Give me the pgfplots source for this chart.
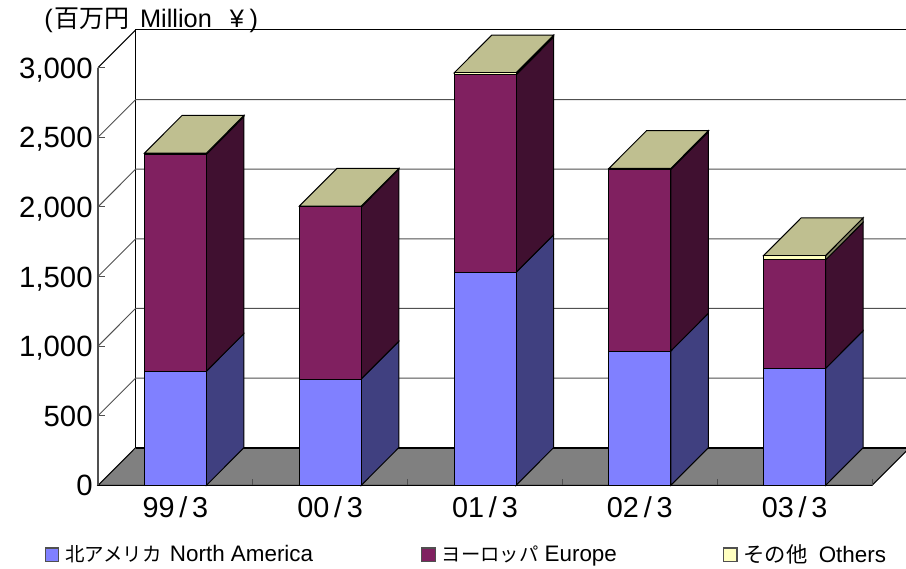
\documentclass[border=0pt]{standalone}
\usepackage{pgfplots}
\pgfplotsset{compat=1.18}
\usepackage{fontspec}
\setmainfont{Liberation Sans}
\newfontfamily\cjk{Noto Sans CJK JP}
\definecolor{cblue}{HTML}{8080FF}\definecolor{sblue}{HTML}{404080}
\definecolor{cpur}{HTML}{802060}\definecolor{spur}{HTML}{401030}
\definecolor{cyel}{HTML}{FFFFC0}\definecolor{syel}{HTML}{808060}
\definecolor{ctop}{HTML}{BFBF90}\definecolor{cfloor}{HTML}{808080}
\definecolor{cgrid}{HTML}{505050}
\newcommand{\lgd}{\fontsize{16.8pt}{18pt}\selectfont}
\newcommand{\jp}[2]{{\cjk\fontsize{#1}{18pt}\selectfont #2}}
\pgfplotsset{
  common/.style={
    at={(73.5pt,61.95pt)},anchor=south west,
    scale only axis,width=580.5pt,height=313.3pt,
    xmin=0,xmax=5,ymin=0,ymax=3000,clip=false,enlargelimits=false},
  side/.style={draw=black,line width=0.75pt,fill=#1,forget plot},
  wall/.style={draw=cgrid,line width=0.7pt,forget plot},
}
\begin{document}
\begin{tikzpicture}
\useasboundingbox (0,0) rectangle (679.5pt,426pt);
\clip (0,0) rectangle (679.5pt,426pt);
\begin{axis}[common,
  axis on top,
  axis lines=left,
  x axis line style={-,line width=1pt,color=black},
  y axis line style={-,line width=1.1pt,color=cgrid},
  ytick={0,500,1000,1500,2000,2500,3000},
  tick align=inside,
  tick style={color=cgrid,line width=0.7pt},
  major tick length=5pt,
  yticklabel style={font=\fontsize{22pt}{24pt}\selectfont,xshift=-0.5pt,text height=15.8pt,text depth=0pt,anchor=east},
  /pgf/number format/assume math mode=true,
  /pgf/number format/1000 sep={,},
  xtick={1,2,3,4,5},
  xticklabels={,,,,},
  extra x ticks={0.5,1.5,2.5,3.5,4.5},
  extra x tick labels={99\,/\,3,00\,/\,3,01\,/\,3,02\,/\,3,03\,/\,3},
  extra x tick style={major tick length=0pt,tick style={draw=none},
    xticklabel style={font=\fontsize{21.6pt}{24pt}\selectfont,yshift=-5pt}},
]
% floor
\addplot[draw=black,line width=0.75pt,fill=cfloor,forget plot] coordinates {(0,0)(5,0)(5.243,271)(0.243,271)} --cycle;
% back wall + grid
\addplot[draw=black,line width=0.8pt,forget plot] coordinates {(0.243,271)(0.243,3271)(5.243,3271)};
\addplot[draw=black,line width=1.3pt,forget plot] coordinates {(0.243,271)(5.243,271)};
\addplot[wall] coordinates {(0,500)(0.243,771)(5.243,771)};
\addplot[wall] coordinates {(0,1000)(0.243,1271)(5.243,1271)};
\addplot[wall] coordinates {(0,1500)(0.243,1771)(5.243,1771)};
\addplot[wall] coordinates {(0,2000)(0.243,2271)(5.243,2271)};
\addplot[wall] coordinates {(0,2500)(0.243,2771)(5.243,2771)};
\addplot[draw=black,line width=0.8pt,forget plot] coordinates {(0,3000)(0.243,3271)};
% sides and tops
\addplot[side=sblue] coordinates {(0.7,0)(0.943,271)(0.943,1091)(0.7,820)} --cycle;
\addplot[side=spur] coordinates {(0.7,820)(0.943,1091)(0.943,2649)(0.7,2378)} --cycle;
\addplot[side=syel] coordinates {(0.7,2378)(0.943,2649)(0.943,2657)(0.7,2386)} --cycle;
\addplot[side=ctop] coordinates {(0.3,2386)(0.7,2386)(0.943,2657)(0.543,2657)} --cycle;
\addplot[side=sblue] coordinates {(1.7,0)(1.943,271)(1.943,1035)(1.7,764)} --cycle;
\addplot[side=spur] coordinates {(1.7,764)(1.943,1035)(1.943,2271)(1.7,2000)} --cycle;
\addplot[side=syel] coordinates {(1.7,2000)(1.943,2271)(1.943,2276)(1.7,2005)} --cycle;
\addplot[side=ctop] coordinates {(1.3,2005)(1.7,2005)(1.943,2276)(1.543,2276)} --cycle;
\addplot[side=sblue] coordinates {(2.7,0)(2.943,271)(2.943,1800)(2.7,1529)} --cycle;
\addplot[side=spur] coordinates {(2.7,1529)(2.943,1800)(2.943,3219)(2.7,2948)} --cycle;
\addplot[side=syel] coordinates {(2.7,2948)(2.943,3219)(2.943,3233)(2.7,2962)} --cycle;
\addplot[side=ctop] coordinates {(2.3,2962)(2.7,2962)(2.943,3233)(2.543,3233)} --cycle;
\addplot[side=sblue] coordinates {(3.7,0)(3.943,271)(3.943,1236)(3.7,965)} --cycle;
\addplot[side=spur] coordinates {(3.7,965)(3.943,1236)(3.943,2540)(3.7,2269)} --cycle;
\addplot[side=syel] coordinates {(3.7,2269)(3.943,2540)(3.943,2547)(3.7,2276)} --cycle;
\addplot[side=ctop] coordinates {(3.3,2276)(3.7,2276)(3.943,2547)(3.543,2547)} --cycle;
\addplot[side=sblue] coordinates {(4.7,0)(4.943,271)(4.943,1111)(4.7,840)} --cycle;
\addplot[side=spur] coordinates {(4.7,840)(4.943,1111)(4.943,1890)(4.7,1619)} --cycle;
\addplot[side=syel] coordinates {(4.7,1619)(4.943,1890)(4.943,1922)(4.7,1651)} --cycle;
\addplot[side=ctop] coordinates {(4.3,1651)(4.7,1651)(4.943,1922)(4.543,1922)} --cycle;
\end{axis}
\begin{axis}[common,hide axis,
  ybar stacked,bar width=46.5pt,
  legend columns=3,
  legend cell align=left,
  legend style={at={(0,0)},anchor=north west,xshift=-39.75pt,yshift=-44.5pt,
    draw=none,fill=none,inner sep=0pt,outer sep=0pt,
    nodes={inner sep=0pt,anchor=west},
    /tikz/every even column/.append style={column sep=3pt}},
  legend image code/.code={\draw[#1,draw=cgrid,line width=0.8pt] (0pt,-5pt) rectangle (10pt,5pt);},
]
\addplot[fill=cblue,draw=black,line width=0.75pt] coordinates {(0.5,820)(1.5,764)(2.5,1529)(3.5,965)(4.5,840)};
\addplot[fill=cpur,draw=black,line width=0.75pt] coordinates {(0.5,1558)(1.5,1236)(2.5,1419)(3.5,1304)(4.5,779)};
\addplot[fill=cyel,draw=black,line width=0.75pt] coordinates {(0.5,8)(1.5,5)(2.5,14)(3.5,7)(4.5,32)};
\legend{\makebox[268.5pt][l]{\hspace*{4.5pt}\jp{14.6pt}{北アメリカ}\hspace{1.5pt}\lgd\ North America},
        \makebox[212.5pt][l]{\hspace*{4.5pt}\jp{14.5pt}{ヨーロッパ}\lgd\ Europe},
        \makebox[125pt][l]{\hspace*{4.5pt}\jp{16pt}{その他}\hspace{3.75pt}\lgd\ Others}}
\end{axis}
\node[anchor=base west,inner sep=0pt] at (33pt,405pt)
  {\fontsize{19pt}{20pt}\selectfont (\hspace{1.5pt}{\cjk\fontsize{18.75pt}{20pt}\selectfont 百万円}\hspace{2.5pt}\ Million\hspace{3pt}\ \ ¥\hspace{1pt}\,)};
\end{tikzpicture}
\end{document}
